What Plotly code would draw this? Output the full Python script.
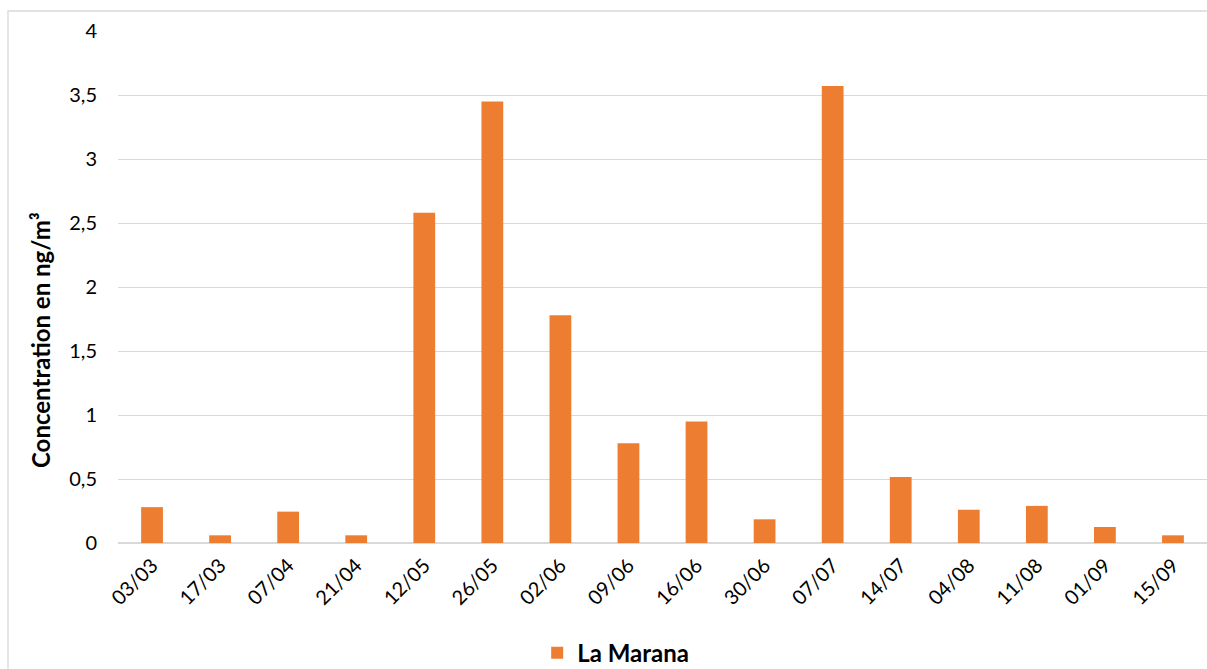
import plotly.graph_objects as go

dates = ["03/03", "17/03", "07/04", "21/04", "12/05", "26/05", "02/06", "09/06",
         "16/06", "30/06", "07/07", "14/07", "04/08", "11/08", "01/09", "15/09"]
values = [0.28, 0.06, 0.245, 0.06, 2.58, 3.45, 1.78, 0.78,
          0.95, 0.185, 3.57, 0.515, 0.26, 0.29, 0.125, 0.06]
y_ticks = [0, 0.5, 1, 1.5, 2, 2.5, 3, 3.5, 4]
y_title = "Concentration en ng/m³"

fig = go.Figure()
fig.add_trace(go.Bar(x=dates, y=values, name="La Marana",
                     marker=dict(color="#ED7D31", line=dict(width=0)),
                     showlegend=True))

font_family = "Lato, 'Open Sans', sans-serif"
fig.update_layout(
    width=1207, height=669,
    margin=dict(l=118, r=0, t=31, b=126, autoexpand=False),
    paper_bgcolor="white", plot_bgcolor="white",
    bargap=0.68,
    separators=",.",
    font=dict(family=font_family, color="#000000", size=20),
    showlegend=True,
    legend=dict(orientation="h", x=0.457, xanchor="center", y=-0.215, yanchor="middle",
                font=dict(size=24, family=font_family, color="#000000", weight="bold"),
                itemwidth=30),
    xaxis=dict(type="category", tickangle=-45, showgrid=False, showline=False,
               ticks="", tickfont=dict(size=20), zeroline=False, ticklabelstandoff=6,
               automargin=False),
    yaxis=dict(range=[0, 4], tickvals=y_ticks, showgrid=True, gridcolor="#d9d9d9",
               gridwidth=1.3, zeroline=True, zerolinecolor="#d9d9d9", zerolinewidth=1.5,
               showline=False, ticks="", ticklabelstandoff=20, tickfont=dict(size=20),
               automargin=False),
    annotations=[dict(text="<b>" + y_title + "</b>", xref="paper", yref="paper",
                      x=(40 - 118) / 1089, y=(543 - 340) / 512, xanchor="center",
                      yanchor="middle", textangle=-90, showarrow=False,
                      font=dict(size=24, family=font_family, color="#000000"))],
    shapes=[dict(type="rect", xref="paper", yref="paper",
                 x0=(8 - 118) / 1089, x1=1.1, y0=-0.5, y1=(543 - 11) / 512,
                 line=dict(color="#d9d9d9", width=1.3), fillcolor="rgba(0,0,0,0)",
                 layer="below")],
)

fig.write_html("out.html", config={"displayModeBar": False},
               post_script="document.body.style.margin='0';document.body.style.overflow='hidden';")
